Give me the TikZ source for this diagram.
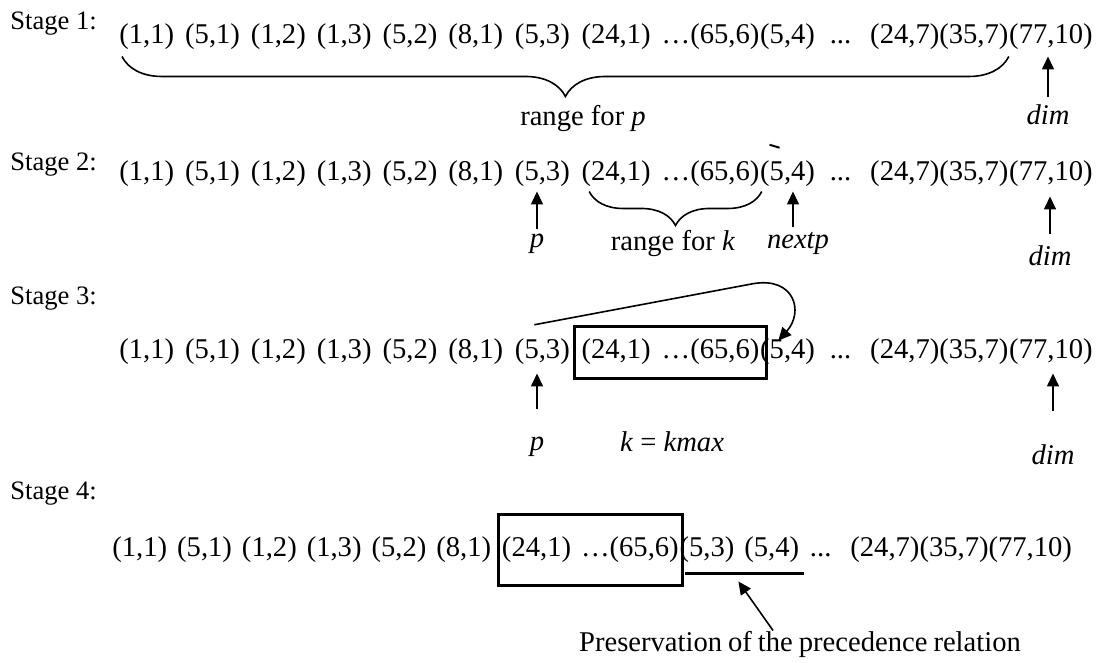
\documentclass[tikz,border=0pt]{standalone}
\usepackage{fontspec}
\setmainfont{Liberation Serif}
\usetikzlibrary{arrows.meta, positioning, decorations.pathreplacing, fit}

\newcommand{\seqfont}{\fontsize{14.3pt}{17pt}\selectfont\spaceskip=5.5pt\relax}
\newcommand{\seqfontb}{\fontsize{14.3pt}{17pt}\selectfont\spaceskip=5pt\relax}
\newcommand{\lblfont}{\fontsize{14.3pt}{17pt}\selectfont}
\newcommand{\stagefont}{\fontsize{13.3pt}{16pt}\selectfont}

\begin{document}
\begin{tikzpicture}[
    x=0.5pt, y=-0.5pt,
    seq/.style={inner sep=0pt, font=\seqfont},
    seqb/.style={inner sep=0pt, font=\seqfontb},
    stagelbl/.style={inner sep=0pt, anchor=base west, font=\stagefont},
    lbl/.style={inner sep=0pt, anchor=base, font=\lblfont},
    arrow/.style={-{Triangle[length=6.5pt,width=6pt]}, line width=0.8pt, draw=black},
    brc/.style={decorate, line width=0.8pt},
    hbox/.style={draw, line width=1.5pt, inner xsep=3.5pt, inner ysep=6.3pt}
]
\useasboundingbox (0,0) rectangle (1110,663);

% stage 1
\node[stagelbl] (st1) at (10,30) {Stage 1:};
\node[seq, anchor=base west] (s1a) at (119,44) {(1,1) (5,1) (1,2) (1,3) (5,2) (8,1)};
\node[seq, base right=5.5pt of s1a] (s1p) {(5,3)};
\node[seq, base right=5.5pt of s1p] (s1k) {(24,1) …(65,6)};
\node[seq, base right=0pt of s1k] (s1n) {(5,4)};
\node[seq, base right=7pt of s1n] (s1r) {...\hspace{9.5pt}(24,7)(35,7)};
\node[seq, base right=0pt of s1r] (s1d) {(77,10)};

\draw[brc, decoration={brace, mirror, amplitude=20pt}]
    ([xshift=1.5pt,yshift=-3pt]s1a.south west) -- ([yshift=-3pt]s1r.south east);
\node[lbl] (rp1) at (583,126) {range for \textit{p}};
\node[lbl] (d1) at (1048,125) {\textit{dim}};
\draw[arrow, shorten <=4pt, shorten >=3pt] (d1.north) -- (d1.north |- s1d.south);

% stage 2
\node[stagelbl] (st2) at (10,171) {Stage 2:};
\node[seq, anchor=base west] (s2a) at (119,181) {(1,1) (5,1) (1,2) (1,3) (5,2) (8,1)};
\node[seq, base right=5.5pt of s2a] (s2p) {(5,3)};
\node[seq, base right=5.5pt of s2p] (s2k) {(24,1) …(65,6)};
\node[seq, base right=0pt of s2k] (s2n) {(5,4)};
\node[seq, base right=7pt of s2n] (s2r) {...\hspace{9.5pt}(24,7)(35,7)};
\node[seq, base right=0pt of s2r] (s2d) {(77,10)};
\draw[line width=1pt] ([xshift=-9pt,yshift=8pt]s2n.north) -- ([xshift=-4pt,yshift=6.5pt]s2n.north);

\draw[brc, decoration={brace, mirror, amplitude=17pt}]
    ([xshift=4pt,yshift=-2pt]s2k.south west) -- ([xshift=1pt,yshift=-2pt]s2k.south east);
\node[lbl] (rk2) at (673,251) {range for \textit{k}};
\node[lbl] (p2) at (537,248) {\textit{p}};
\node[lbl] (n2) at (798,249) {\textit{nextp}};
\node[lbl] (d2) at (1050,266) {\textit{dim}};
\draw[arrow, shorten <=2.5pt, shorten >=2pt] (p2.north) -- (p2.north |- s2p.south);
\draw[arrow, shorten <=2.5pt, shorten >=2pt] ([xshift=-2.5pt]n2.north) -- ([xshift=-2.5pt]n2.north |- s2n.south);
\draw[arrow, shorten <=6pt, shorten >=4.5pt] (d2.north) -- (d2.north |- s2d.south);

% stage 3
\node[stagelbl] (st3) at (10,305) {Stage 3:};
\node[seq, anchor=base west] (s3a) at (119,359) {(1,1) (5,1) (1,2) (1,3) (5,2) (8,1)};
\node[seq, base right=5.5pt of s3a] (s3p) {(5,3)};
\node[seq, base right=5.5pt of s3p] (s3k) {(24,1) …(65,6)};
\node[seq, base right=0pt of s3k] (s3n) {(5,4)};
\node[seq, base right=7pt of s3n] (s3r) {...\hspace{9.5pt}(24,7)(35,7)};
\node[seq, base right=0pt of s3r] (s3d) {(77,10)};
\node[hbox, fit=(s3k)] (b3) {};

\draw[arrow] ([xshift=-4pt,yshift=7pt]s3p.north)
    -- ([xshift=-7.5pt,yshift=20.5pt]b3.north east)
    .. controls ([xshift=13pt,yshift=24pt]b3.north east) and ([xshift=18pt,yshift=6.5pt]b3.north east)
    .. ([xshift=5pt,yshift=-8pt]b3.north east);

\node[lbl] (p3) at (537,451) {\textit{p}};
\node[lbl] (km3) at (672,452) {\textit{k} = \textit{kmax}};
\node[lbl] (d3) at (1053,465) {\textit{dim}};
\draw[arrow, shorten <=14pt, shorten >=4pt] (p3.north) -- (p3.north |- s3p.south);
\draw[arrow, shorten <=17pt, shorten >=4pt] (d3.north) -- (d3.north |- s3d.south);

% stage 4
\node[stagelbl] (st4) at (10,500) {Stage 4:};
\node[seqb, anchor=base west] (s4a) at (112,557) {(1,1) (5,1) (1,2) (1,3) (5,2) (8,1)};
\node[seqb, base right=5pt of s4a] (s4k) {(24,1) …(65,6)};
\node[seqb, base right=0pt of s4k] (s4m) {(5,3) (5,4)};
\node[seqb, base right=5pt of s4m] (s4r) {...\hspace{9.5pt}(24,7)(35,7)(77,10)};
\node[hbox, fit=(s4k), inner xsep=1.5pt, inner ysep=11pt] (b4) {};

\draw[line width=1.5pt] ([xshift=3pt,yshift=-5pt]s4m.south west) -- ([xshift=2pt,yshift=-5pt]s4m.south east)
    coordinate[midway] (ul);
\node[lbl] (pres) at (800,651) {{\spaceskip=3pt\relax Preservation of the precedence relation}};
\draw[arrow] ([xshift=-13.5pt]pres.north) -- ([xshift=-3pt,yshift=-4pt]ul);
\end{tikzpicture}
\end{document}
